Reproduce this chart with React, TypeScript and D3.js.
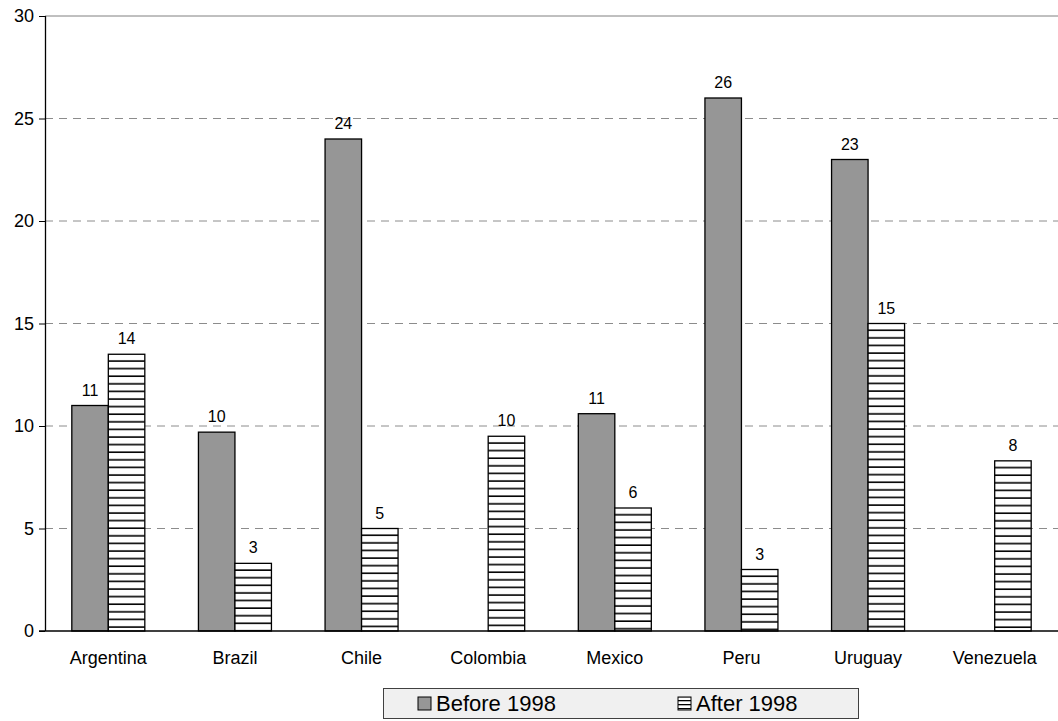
import * as d3 from 'd3';
import * as React from 'react';

const categories = ['Argentina', 'Brazil', 'Chile', 'Colombia', 'Mexico', 'Peru', 'Uruguay', 'Venezuela'];
const seriesNames = ['Before 1998', 'After 1998'];
const beforeValues = [11, 9.7, 24, null, 10.6, 26, 23, null];
const afterValues = [13.5, 3.3, 5, 9.5, 6, 3, 15, 8.3];
const yTicks = [0, 5, 10, 15, 20, 25, 30];

const W = 1058;
const H = 721;

const App = () => {
  const ref = React.useRef<SVGSVGElement | null>(null);

  React.useEffect(() => {
    if (!ref.current) return;
    const svg = d3.select(ref.current);
    svg.selectAll('*').remove();

    const left = 45;
    const right = W;
    const top = 16;
    const bottom = 631;
    const font = 'Arial, "Liberation Sans", sans-serif';

    const x = d3.scaleBand().domain(categories).range([left, right]).padding(0);
    const y = d3.scaleLinear().domain([0, 30]).range([bottom, top]);
    const barW = 36.5;

    const defs = svg.append('defs');

    // gridlines
    yTicks.forEach((t) => {
      if (t === 0) return;
      svg
        .append('line')
        .attr('x1', left)
        .attr('x2', right)
        .attr('y1', y(t))
        .attr('y2', y(t))
        .attr('stroke', t === 30 ? '#808080' : '#8c8c8c')
        .attr('stroke-width', 1)
        .attr('stroke-dasharray', t === 30 ? null : '8,6');
    });

    // y axis
    const yAxis = svg
      .append('g')
      .attr('transform', `translate(${left},0)`)
      .call(d3.axisLeft(y).tickValues(yTicks).tickSize(6).tickPadding(5).tickFormat(d3.format('d')));
    yAxis.select('.domain').attr('stroke', '#000').attr('stroke-width', 1.3).attr('d', `M0.5,${bottom}V${top}`);
    yAxis.selectAll('.tick line').attr('stroke', '#000');
    yAxis.selectAll('.tick text').attr('fill', '#000').style('font-size', '18px').style('font-family', font);

    // bars
    const data = categories.map((c, i) => ({ c, before: beforeValues[i], after: afterValues[i] }));
    const groups = svg.selectAll('.grp').data(data).enter().append('g').attr('class', 'grp');

    groups.each(function (d, gi) {
      const g = d3.select(this);
      const cx = (x(d.c) as number) + x.bandwidth() / 2;
      const vals = [d.before, d.after];
      vals.forEach((v, k) => {
        if (v == null) return;
        const bx = cx - barW + k * barW;
        let fill = '#969696';
        if (k === 1) {
          // hatch aligned to each bar's top edge
          const id = `hatch${gi}`;
          const p = defs
            .append('pattern')
            .attr('id', id)
            .attr('patternUnits', 'userSpaceOnUse')
            .attr('width', 8)
            .attr('height', 7.6)
            .attr('y', y(v));
          p.append('rect').attr('width', 8).attr('height', 7.6).attr('fill', '#fff');
          p.append('rect').attr('y', 6).attr('width', 8).attr('height', 1.6).attr('fill', '#000');
          fill = `url(#${id})`;
        }
        g.append('rect')
          .attr('x', bx)
          .attr('y', y(v))
          .attr('width', barW)
          .attr('height', y(0) - y(v))
          .attr('fill', fill)
          .attr('stroke', '#000')
          .attr('stroke-width', 1.3);
        g.append('text')
          .attr('x', bx + barW / 2)
          .attr('y', y(v) - 10)
          .attr('text-anchor', 'middle')
          .style('font-size', '16px')
          .style('font-family', font)
          .attr('fill', '#000')
          .text(Math.round(v));
      });
    });

    const legPat = defs
      .append('pattern')
      .attr('id', 'hatchLeg')
      .attr('patternUnits', 'userSpaceOnUse')
      .attr('width', 8)
      .attr('height', 4)
      .attr('y', 0);
    legPat.append('rect').attr('width', 8).attr('height', 4).attr('fill', '#fff');
    legPat.append('rect').attr('y', 0).attr('width', 8).attr('height', 1.3).attr('fill', '#000');

    // x axis
    svg
      .append('line')
      .attr('x1', left - 6)
      .attr('x2', right)
      .attr('y1', bottom)
      .attr('y2', bottom)
      .attr('stroke', '#000')
      .attr('stroke-width', 1.3);

    svg
      .selectAll('.xl')
      .data(categories)
      .enter()
      .append('text')
      .attr('class', 'xl')
      .attr('x', (d) => (x(d) as number) + x.bandwidth() / 2)
      .attr('y', 664)
      .attr('text-anchor', 'middle')
      .style('font-size', '18px')
      .style('font-family', font)
      .attr('fill', '#000')
      .text((d) => d);

    // legend
    const leg = svg.append('g');
    leg
      .append('rect')
      .attr('x', 383.5)
      .attr('y', 688.5)
      .attr('width', 475)
      .attr('height', 30)
      .attr('fill', '#f0f0f0')
      .attr('stroke', '#404040')
      .attr('stroke-width', 1);
    const legX = [418, 678];
    seriesNames.forEach((s, i) => {
      leg
        .append('rect')
        .attr('x', legX[i])
        .attr('y', 697)
        .attr('width', 13)
        .attr('height', 13)
        .attr('fill', i === 0 ? '#969696' : 'url(#hatchLeg)')
        .attr('stroke', '#000')
        .attr('stroke-width', 1);
      leg
        .append('text')
        .attr('x', legX[i] + 18)
        .attr('y', 711)
        .style('font-size', '22px')
        .style('font-family', font)
        .attr('fill', '#000')
        .text(s);
    });
  }, []);

  return (
    <svg
      ref={ref}
      width={W}
      height={H}
      style={{ position: 'absolute', left: 0, top: 0, background: '#fff' }}
    />
  );
};

export default App;
